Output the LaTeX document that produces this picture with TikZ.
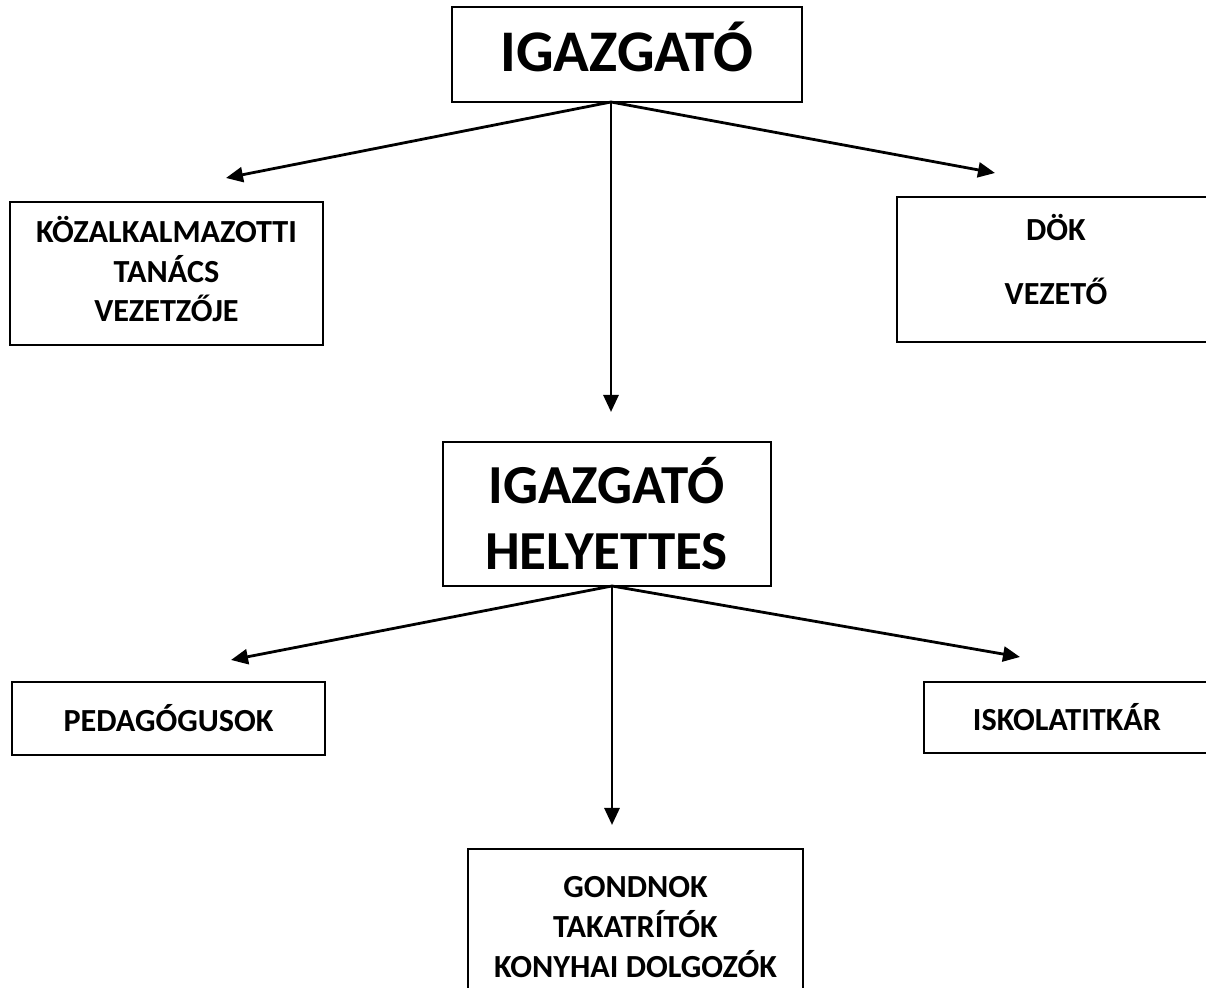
\documentclass[tikz,border=0pt]{standalone}
\usepackage{fontspec}
\setmainfont{Carlito}
\usetikzlibrary{arrows.meta,positioning}

\begin{document}
\begin{tikzpicture}[x=0.5pt,y=-0.5pt,
  box/.style={draw=black,line width=1pt,align=center,inner sep=0pt},
  big/.style={font=\fontsize{29.5}{33}\selectfont\bfseries},
  mid/.style={font=\fontsize{27.5}{33}\selectfont\bfseries},
  small/.style={font=\fontsize{16.1}{19.8}\selectfont\bfseries},
  arr/.style={line width=1.4pt,-{Triangle[length=8.5pt,width=7.5pt]}}]

\useasboundingbox (0,0) rectangle (1206,988);
\clip (0,0) rectangle (1206,988);

% Director
\node[box, big, text depth=7.5pt, minimum width=175pt, minimum height=47.5pt] at (627,54.5)
(dir) {IGAZGATÓ};

% Staff council
\node[box, small, text depth=4.5pt, minimum width=156.5pt, minimum height=71.5pt] at (166.5,273.5)
(kt) {KÖZALKALMAZOTTI\\TANÁCS\\VEZETZŐJE};

% Student council
\node[box, small, text depth=10pt, minimum width=159pt, minimum height=72.5pt] at (1056,269.5)
(dok) {DÖK\\[12.5pt]VEZETŐ};

% Deputy director
\node[box, mid, minimum width=164pt, minimum height=72pt] at (606.5,514)
(dep) {IGAZGATÓ\\HELYETTES};

% Teachers
\node[box, small, minimum width=156.5pt, minimum height=36.5pt] at (168.5,718.5)
(ped) {PEDAGÓGUSOK};

% Secretary
\node[box, small, minimum width=143pt, minimum height=35.5pt] at (1067,717.5)
(tit) {ISKOLATITKÁR};

% Support staff
\node[box, small, text depth=2pt, minimum width=167.5pt, minimum height=80pt] at (635.5,929)
(gond) {GONDNOK\\TAKATRÍTÓK\\KONYHAI DOLGOZÓK};

% fork points and arrow tips
\coordinate (f1) at (611,102);
\coordinate (t1l) at (226,178);
\coordinate (t1r) at (995,173);
\coordinate (t1d) at (611,412);
\coordinate (f2) at (612,586);
\coordinate (t2l) at (231,660);
\coordinate (t2r) at (1020,657);
\coordinate (t2d) at (612,825);

\draw[arr] (f1) -- (t1l);
\draw[arr] (f1) -- (t1r);
\draw[arr] (f1) -- (t1d);
\draw[arr] (f2) -- (t2l);
\draw[arr] (f2) -- (t2r);
\draw[arr] (f2) -- (t2d);

\end{tikzpicture}
\end{document}
